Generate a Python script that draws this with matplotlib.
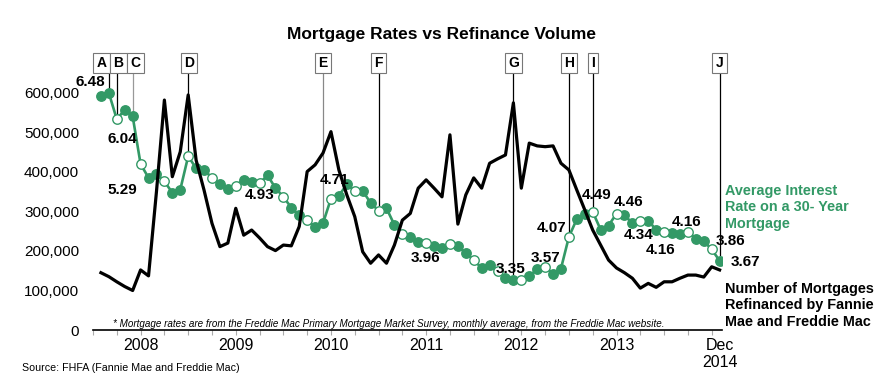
import numpy as np
import matplotlib
matplotlib.use("Agg")
import matplotlib.pyplot as plt
import matplotlib.transforms as mtransforms

plt.rcParams['font.family'] = ['Liberation Sans', 'DejaVu Sans']

# months counted from Jul 2008 (0) to Jan 2015 (78)
months = np.arange(79)

# 30-year mortgage rate, monthly average (%)
rates = [6.43, 6.48, 6.04, 6.20, 6.09, 5.29,
         5.06, 5.13, 5.00, 4.81, 4.86, 5.42, 5.22, 5.19, 5.06, 4.95, 4.88, 4.93,
         5.03, 4.99, 4.97, 5.10, 4.89, 4.74, 4.56, 4.43, 4.35, 4.23, 4.30, 4.71,
         4.76, 4.95, 4.84, 4.84, 4.64, 4.51, 4.55, 4.27, 4.11, 4.07, 3.99, 3.96,
         3.92, 3.89, 3.95, 3.91, 3.80, 3.68, 3.55, 3.60, 3.50, 3.38, 3.35, 3.35,
         3.41, 3.53, 3.57, 3.45, 3.54, 4.07, 4.37, 4.46, 4.49, 4.19, 4.26, 4.46,
         4.43, 4.30, 4.34, 4.34, 4.19, 4.16, 4.13, 4.12, 4.16, 4.04, 4.00, 3.86,
         3.67]

# refinanced mortgages (thousands)
refis = [145, 135, 122, 110, 100, 152, 137, 350, 582, 388, 451, 595, 430, 354, 270,
         211, 220, 308, 240, 253, 233, 211, 201, 215, 213, 262, 401, 418, 448, 502,
         405, 342, 287, 198, 169, 190, 169, 215, 278, 295, 359, 380, 359, 337, 494,
         268, 342, 385, 359, 422, 433, 443, 575, 359, 473, 466, 464, 466, 422, 405,
         354, 304, 253, 215, 177, 157, 145, 131, 106, 118, 108, 122, 122, 131, 139,
         139, 134, 160, 152]

year_pos = [5, 17, 29, 41, 53, 65, 78]
year_labels = ['2008', '2009', '2010', '2011', '2012', '2013', 'Dec\n2014']

letters = ['A', 'B', 'C', 'D', 'E', 'F', 'G', 'H', 'I', 'J']
letter_months = [1, 2, 4, 11, 28, 35, 52, 59, 62, 78]
box_shift = [-0.9, 0.2, 0.4, 0.1, 0, 0, 0, 0, 0, 0]
line_col = ['k', 'k', '#999999', 'k', '#888888', 'k', 'k', 'k', 'k', 'k']

label_months = [1, 2, 5, 17, 29, 41, 52, 56, 59, 62, 65, 68, 71, 74, 77, 78]
label_off = [(-19, 11), (6, -20), (-18, -26), (24, -9), (4, 19), (-1, -15),
             (-3, 11), (0, 9), (-17, 9), (4, 17), (12, 12), (-2, -14),
             (-4, -18), (-1, 10), (19, 8), (26, -1)]

green = '#339966'

fig = plt.figure(figsize=(8.87, 3.87), dpi=100)
ax = fig.add_axes([93/887, 57/387, 629/887, 290/387])
ax2 = ax.twinx()
ax.set_zorder(ax2.get_zorder() + 1)
ax.patch.set_visible(False)

ax.set_xlim(-1, 78.3)
ax.set_ylim(0, 734000)
ax2.set_ylim(2.51, 7.368)

# rates
ax2.plot(months, rates, color=green, lw=1.9, zorder=2)
is_open = months % 3 == 2
ax2.plot(months[~is_open], np.array(rates)[~is_open], 'o', color=green, ms=6.8, zorder=3)
ax2.plot(months[is_open], np.array(rates)[is_open], 'o', mfc='white', mec=green,
         mew=1.0, ms=6.8, zorder=3)

# refinance volume
ax.plot(months, np.array(refis) * 1000, color='k', lw=2.3, zorder=4)

# lettered events
trans = mtransforms.blended_transform_factory(ax2.transData, ax2.transAxes)
for L, m, sh, c in zip(letters, letter_months, box_shift, line_col):
    r = rates[m]
    ax2.plot([m, m], [r + 0.09, 6.95], color=c, lw=0.9, zorder=1)
    ax2.text(m + sh, 0.921, L, transform=trans, ha='center', va='center',
             fontsize=10, fontweight='bold', zorder=6,
             bbox=dict(boxstyle='square,pad=0.24', fc='white', ec='#777777', lw=0.8))

# rate labels
for m, (dx, dy) in zip(label_months, label_off):
    ax.annotate(f"{rates[m]:.2f}", xy=(m, rates[m]), xycoords=ax2.transData,
                xytext=(dx, dy), textcoords='offset pixels', ha='center', va='center',
                fontsize=11, fontweight='bold', zorder=7)

# axes styling
for s in ['top', 'left', 'right']:
    ax.spines[s].set_visible(False)
    ax2.spines[s].set_visible(False)
ax2.spines['bottom'].set_visible(False)
ax.spines['bottom'].set_linewidth(1.2)
ax2.set_yticks([])

ax.set_yticks(range(0, 600001, 100000))
ax.set_yticklabels([f"{v:,}" for v in range(0, 600001, 100000)], fontsize=11)
ax.tick_params(axis='y', length=0, pad=10)

ax.xaxis.remove_overlapping_locs = False
ax.set_xticks(range(-1, 78, 3))
ax.set_xticklabels([])
ax.tick_params(axis='x', which='major', length=3.5, width=0.8, color='#aaaaaa')
ax.set_xticks(year_pos, minor=True)
ax.set_xticklabels(year_labels, minor=True, fontsize=11.5, linespacing=1.15)
ax.tick_params(axis='x', which='minor', length=0, pad=6)

# texts
fig.text(442/887, 1 - 35/387, "Mortgage Rates vs Refinance Volume", ha='center',
         va='center', fontsize=12.5, fontweight='bold')
fig.text(725/887, 1 - 184/387, "Average Interest\nRate on a 30- Year\nMortgage",
         ha='left', va='top', fontsize=10.4, fontweight='bold', color=green,
         linespacing=1.22)
fig.text(725/887, 1 - 282/387, "Number of Mortgages\nRefinanced by Fannie\nMae and Freddie Mac",
         ha='left', va='top', fontsize=10.4, fontweight='bold', color='k',
         linespacing=1.22)
fig.text(113/887, 1 - 324/387,
         "* Mortgage rates are from the Freddie Mac Primary Mortgage Market Survey, "
         "monthly average, from the Freddie Mac website.",
         ha='left', va='center', fontsize=7.15, style='italic')
fig.text(22/887, 1 - 368/387, "Source: FHFA (Fannie Mae and Freddie Mac)",
         ha='left', va='center', fontsize=7.7)

fig.savefig('out.png', dpi=100)
